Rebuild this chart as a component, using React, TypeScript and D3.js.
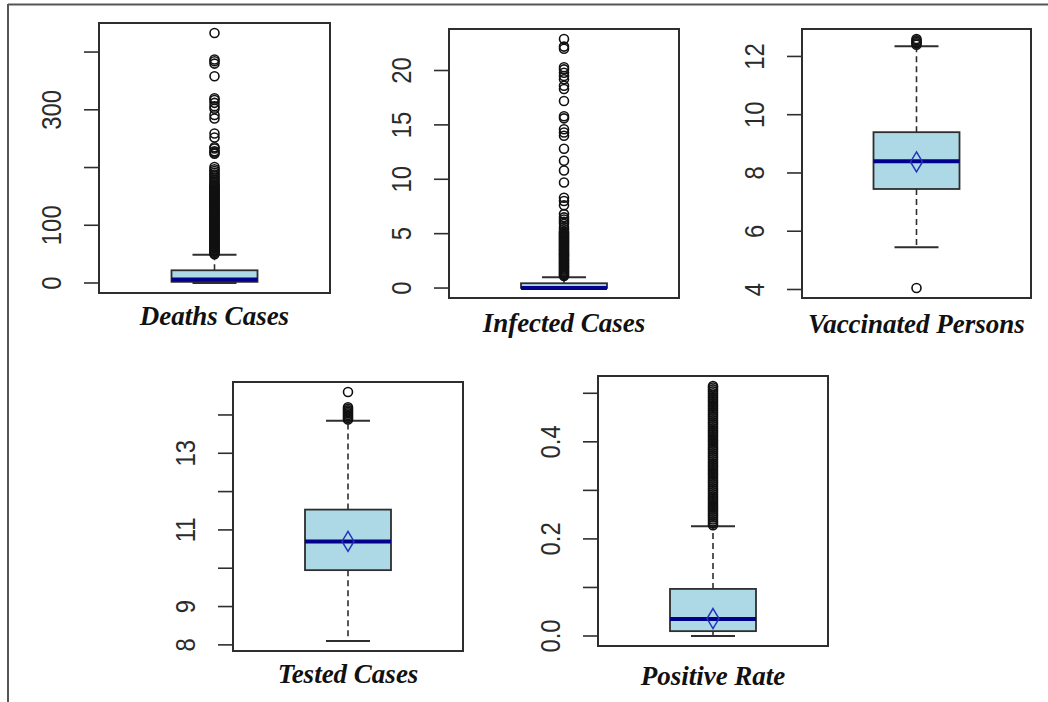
import React from "react";
import * as d3 from "d3";

// ---------- DATA ----------
const panelTitles = ["Deaths Cases", "Infected Cases", "Vaccinated Persons", "Tested Cases", "Positive Rate"];

// [lowerWhisker, q1, median, q3, upperWhisker]
const deathsStats = [0, 2, 6, 22, 49];
const infectedStats = [0, 0.01, 0.01, 0.44, 1.0];
const vaccinatedStats = [5.45, 7.45, 8.4, 9.4, 12.35];
const testedStats = [8.1, 9.95, 10.7, 11.53, 13.85];
const positiveStats = [0.0, 0.01, 0.035, 0.097, 0.226];

// means (null = not drawn)
const panelMeans = [null, null, 8.38, 10.7, 0.036];

const deathsOutliers = [
  50, 52, 54, 56, 58, 60, 62, 64, 66, 68, 70, 72, 74, 76, 78, 80, 82, 84, 86, 88, 90, 92, 94, 96, 98,
  100, 102, 104, 106, 108, 110, 112, 114, 116, 118, 120, 122, 124, 126, 128, 130, 132, 134, 136, 138,
  140, 142, 144, 146, 148, 150, 152, 154, 156, 158, 160, 162, 164, 166, 168, 170,
  173, 176, 179, 182, 185, 188, 191, 194, 197, 201, 224, 226, 228, 233, 235, 252, 259,
  285, 291, 302, 306, 312, 317, 320, 358, 380, 384, 387, 433,
];
const infectedOutliers = [
  1.1, 1.2, 1.3, 1.4, 1.5, 1.6, 1.7, 1.8, 1.9, 2.0, 2.1, 2.2, 2.3, 2.4, 2.5, 2.6, 2.7, 2.8, 2.9, 3.0,
  3.1, 3.2, 3.3, 3.4, 3.5, 3.6, 3.7, 3.8, 3.9, 4.0, 4.1, 4.2, 4.3, 4.4, 4.5, 4.6, 4.7, 4.8, 4.9, 5.0,
  5.1, 5.2, 5.4, 5.6, 5.9, 6.1, 6.3, 6.5, 6.8, 7.6, 8.0, 8.3, 9.7, 10.8, 11.7, 12.8, 14.0, 14.3, 14.6,
  15.6, 15.8, 17.2, 18.3, 18.6, 19.2, 19.5, 19.8, 20.1, 20.3, 22.0, 22.2, 22.9,
];
const vaccinatedOutliers = [4.05, 12.4, 12.45, 12.5, 12.55, 12.6];
const testedOutliers = [13.88, 13.92, 13.96, 14.0, 14.04, 14.08, 14.12, 14.16, 14.2, 14.6];
const positiveOutliers = [
  0.228, 0.232, 0.236, 0.24, 0.244, 0.248, 0.252, 0.256, 0.26, 0.264, 0.268, 0.272, 0.276, 0.28,
  0.284, 0.288, 0.292, 0.296, 0.3, 0.304, 0.308, 0.312, 0.316, 0.32, 0.324, 0.328, 0.332, 0.336,
  0.34, 0.344, 0.348, 0.352, 0.356, 0.36, 0.364, 0.368, 0.372, 0.376, 0.38, 0.384, 0.388, 0.392,
  0.396, 0.4, 0.404, 0.408, 0.412, 0.416, 0.42, 0.424, 0.428, 0.432, 0.436, 0.44, 0.444, 0.448,
  0.452, 0.456, 0.46, 0.464, 0.468, 0.472, 0.476, 0.48, 0.484, 0.488, 0.492, 0.496, 0.5, 0.504,
  0.508, 0.512, 0.515,
];

const deathsTicks = [0, 100, 200, 300, 400];
const deathsTickLabels = ["0", "100", "", "300", ""];
const infectedTicks = [0, 5, 10, 15, 20];
const infectedTickLabels = ["0", "5", "10", "15", "20"];
const vaccinatedTicks = [4, 6, 8, 10, 12];
const vaccinatedTickLabels = ["4", "6", "8", "10", "12"];
const testedTicks = [8, 9, 10, 11, 12, 13, 14];
const testedTickLabels = ["8", "9", "", "11", "", "13", ""];
const positiveTicks = [0, 0.1, 0.2, 0.3, 0.4, 0.5];
const positiveTickLabels = ["0.0", "", "0.2", "", "0.4", ""];

const allStats = [deathsStats, infectedStats, vaccinatedStats, testedStats, positiveStats];
const allOutliers = [deathsOutliers, infectedOutliers, vaccinatedOutliers, testedOutliers, positiveOutliers];
const allTicks = [deathsTicks, infectedTicks, vaccinatedTicks, testedTicks, positiveTicks];
const allTickLabels = [deathsTickLabels, infectedTickLabels, vaccinatedTickLabels, testedTickLabels, positiveTickLabels];

// ---------- LAYOUT ----------
const frames = [
  { x0: 99, x1: 330, y0: 23, y1: 293, labelDy: 32 },
  { x0: 449, x1: 679, y0: 29, y1: 298, labelDy: 34 },
  { x0: 802, x1: 1031, y0: 29, y1: 298, labelDy: 35 },
  { x0: 233, x1: 463, y0: 382, y1: 651, labelDy: 32 },
  { x0: 598, x1: 828, y0: 376, y1: 646, labelDy: 39 },
];

const BOX_HALF = 43;
const CAP_HALF = 22;
const INK = "#2e2e2e";

function Panel({ idx }: { idx: number }) {
  const f = frames[idx];
  const stats = allStats[idx];
  const outs = allOutliers[idx];
  const ticks = allTicks[idx];
  const tickLabels = allTickLabels[idx];
  const mean = panelMeans[idx];
  const all = [...stats, ...outs];
  const [mn, mx] = d3.extent(all) as [number, number];
  const pad = (mx - mn) * 0.04;
  const y = d3.scaleLinear().domain([mn - pad, mx + pad]).range([f.y1, f.y0]);
  const cx = (f.x0 + f.x1) / 2;
  const [lo, q1, med, q3, hi] = stats;

  return (
    <g>
      {/* whiskers */}
      <line x1={cx} x2={cx} y1={y(q3)} y2={y(hi)} stroke={INK} strokeWidth={1.6} strokeDasharray="6,4" />
      <line x1={cx} x2={cx} y1={y(q1)} y2={y(lo)} stroke={INK} strokeWidth={1.6} strokeDasharray="6,4" />
      <line x1={cx - CAP_HALF} x2={cx + CAP_HALF} y1={y(hi)} y2={y(hi)} stroke={INK} strokeWidth={2} />
      <line x1={cx - CAP_HALF} x2={cx + CAP_HALF} y1={y(lo)} y2={y(lo)} stroke={INK} strokeWidth={2} />
      {/* box */}
      <rect x={cx - BOX_HALF} width={BOX_HALF * 2} y={y(q3)} height={Math.max(1, y(q1) - y(q3))} fill="#add8e6" stroke={INK} strokeWidth={1.8} />
      <line x1={cx - BOX_HALF} x2={cx + BOX_HALF} y1={y(med)} y2={y(med)} stroke="#00008b" strokeWidth={4} />
      {mean !== null && (
        <path
          d={`M${cx},${y(mean) - 10} L${cx + 6},${y(mean)} L${cx},${y(mean) + 10} L${cx - 6},${y(mean)} Z`}
          fill="none"
          stroke="#2233bb"
          strokeWidth={1.5}
        />
      )}
      {/* outliers */}
      {outs.map((v, i) => (
        <circle key={i} cx={cx} cy={y(v)} r={4.5} fill="none" stroke="#111" strokeWidth={1.6} />
      ))}
      {/* frame */}
      <rect x={f.x0} y={f.y0} width={f.x1 - f.x0} height={f.y1 - f.y0} fill="none" stroke={INK} strokeWidth={2} />
      {/* axis */}
      <line x1={f.x0} x2={f.x0} y1={y(ticks[0])} y2={y(ticks[ticks.length - 1])} stroke={INK} strokeWidth={1.5} />
      {ticks.map((t, i) => (
        <g key={i}>
          <line x1={f.x0 - 15} x2={f.x0} y1={y(t)} y2={y(t)} stroke={INK} strokeWidth={1.6} />
          {tickLabels[i] && (
            <text
              transform={`translate(${f.x0 - 38},${y(t)}) rotate(-90) scale(0.92,1.05)`}
              textAnchor="middle"
              fontFamily="Liberation Sans, Arial, sans-serif"
              fontSize={26}
              fill="#2b2b2b"
            >
              {tickLabels[i]}
            </text>
          )}
        </g>
      ))}
      <text
        x={cx}
        y={f.y1 + f.labelDy}
        textAnchor="middle"
        fontFamily="Liberation Serif, Times New Roman, serif"
        fontWeight="bold"
        fontStyle="italic"
        fontSize={27}
        fill="#111"
      >
        {panelTitles[idx]}
      </text>
    </g>
  );
}

export default function App() {
  return (
    <svg
      width={1048}
      height={702}
      style={{ position: "absolute", left: 0, top: 0, background: "#fff" }}
    >
      <rect x={0} y={0} width={1048} height={702} fill="#fff" />
      <line x1={8} x2={1048} y1={4.5} y2={4.5} stroke="#555" strokeWidth={2} />
      <line x1={8} x2={8} y1={4} y2={702} stroke="#555" strokeWidth={2} />
      {frames.map((_, i) => (
        <Panel key={i} idx={i} />
      ))}
    </svg>
  );
}
